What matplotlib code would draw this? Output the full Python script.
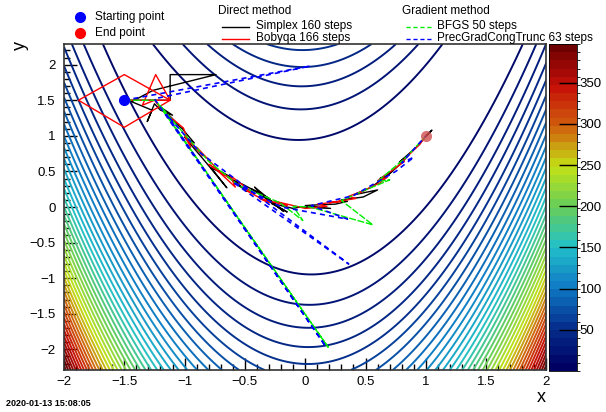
import matplotlib
matplotlib.use('Agg')
import matplotlib.pyplot as plt
import numpy as np
from matplotlib.colors import LinearSegmentedColormap, BoundaryNorm
from matplotlib.ticker import MultipleLocator
from matplotlib.lines import Line2D
import matplotlib.colorbar as mcolorbar

plt.rcParams['font.family'] = ['Liberation Sans', 'DejaVu Sans']

# surface: 10*(y - x^2)^2 + (1 - x)^2 on the drawn window
x_lim = (-2.0, 2.0)
y_lim = (-2.29, 2.29)
z_max = 397.0
n_levels = 40
cbar_ticks = [50, 100, 150, 200, 250, 300, 350]

start_pt = (-1.5, 1.5)
end_pt = (1.0, 1.0)

simplex_x = [-1.5, -1.12, -1.12, -0.74, -1.26, -1.44, -1.27, -1.31, -1.25, -1.2, -1.1, -1.18,
             -1.05, -1.12, -1.02, -0.92, -1.0, -0.82, -0.65, -0.78, -0.62, -0.7, -0.55, -0.48,
             -0.6, -0.52, -0.3, -0.45, -0.22, -0.42, -0.38, -0.18, -0.36, -0.3, -0.15, -0.28,
             -0.1, -0.04, 0.21, 0.0, 0.1, 0.25, 0.35, 0.3, 0.48, 0.6, 0.4, 0.55, 0.72, 0.62,
             0.68, 0.8, 0.85, 0.78, 0.92, 1.05, 1.0]
simplex_y = [1.5, 1.5, 1.86, 1.86, 1.64, 1.48, 1.36, 1.2, 1.45, 1.36, 1.29, 1.38,
             1.15, 1.24, 1.1, 0.9, 0.98, 0.62, 0.27, 0.55, 0.42, 0.5, 0.3, 0.22,
             0.38, 0.32, 0.12, 0.26, 0.0, 0.28, 0.2, -0.06, 0.18, 0.08, -0.07, 0.05,
             -0.02, 0.0, -0.02, 0.02, 0.03, 0.04, 0.08, 0.1, 0.14, 0.24, 0.17, 0.28, 0.5, 0.4,
             0.44, 0.62, 0.72, 0.63, 0.84, 1.08, 1.0]

bobyqa_x = [-1.5, -1.12, -1.5, -1.88, -1.5, -1.12, -1.24, -1.35, -1.25, -1.18, -1.01, -0.95,
            -1.0, -0.85, -0.9, -0.7, -0.8, -0.6, -0.72, -0.58, -0.62, -0.45, -0.5, -0.3,
            -0.38, -0.15, -0.25, 0.0, 0.18, 0.1, 0.3, 0.2, 0.42, 0.36, 0.5, 0.45, 0.62,
            0.68, 0.6, 0.75, 0.82, 0.78, 0.9, 0.95, 1.0]
bobyqa_y = [1.5, 1.5, 1.86, 1.5, 1.12, 1.5, 1.86, 1.43, 1.5, 1.35, 1.11, 0.84,
            1.0, 0.72, 0.84, 0.48, 0.6, 0.38, 0.5, 0.28, 0.44, 0.22, 0.24, 0.06,
            0.12, 0.02, 0.08, -0.02, 0.01, 0.04, 0.08, 0.06, 0.12, 0.15, 0.24, 0.2, 0.34,
            0.42, 0.37, 0.55, 0.64, 0.6, 0.8, 0.88, 1.0]

bfgs_x = [-1.5, -1.24, 0.19, -1.2, -1.0, -0.8, -0.55, -0.21, -0.02, -0.1, 0.04, 0.56,
          0.3, 0.5, 0.7, 0.6, 0.85, 1.0]
bfgs_y = [1.5, 1.5, -1.97, 1.42, 1.02, 0.64, 0.3, 0.06, -0.19, 0.01, 0.0, -0.25,
          0.09, 0.24, 0.38, 0.36, 0.72, 1.0]

pgct_x = [-1.5, 0.04, -1.25, 0.17, -1.15, -0.87, 0.36, -0.6, -0.2, 0.35, 0.05, 0.4,
          0.75, 0.9, 0.8, 1.0]
pgct_y = [1.5, 1.98, 1.52, -1.96, 1.3, 0.76, -0.8, 0.35, 0.0, -0.17, 0.02, 0.16,
          0.5, 0.7, 0.62, 1.0]

# ROOT kRainBow palette
pal_r = [0, 5, 15, 35, 102, 196, 208, 199, 110]
pal_g = [0, 48, 124, 192, 206, 226, 97, 16, 0]
pal_b = [99, 142, 198, 201, 90, 22, 13, 8, 2]
pal = LinearSegmentedColormap.from_list(
    'rainbow', [(r / 255, g / 255, b / 255) for r, g, b in zip(pal_r, pal_g, pal_b)])

W, H = 606, 412


def fx(px):
    return px / W


def fy(py):
    return 1 - py / H


fig = plt.figure(figsize=(W / 100, H / 100), dpi=100)
ax = fig.add_axes([fx(64), fy(370), fx(546.5) - fx(64), fy(44) - fy(370)])

gx = np.linspace(x_lim[0], x_lim[1], 500)
gy = np.linspace(y_lim[0], y_lim[1], 500)
X, Y = np.meshgrid(gx, gy)
Z = 10 * (Y - X ** 2) ** 2 + (1 - X) ** 2

bands = np.linspace(0, z_max, n_levels + 1)
norm = BoundaryNorm(bands, pal.N)
ax.contour(X, Y, Z, levels=bands[1:], cmap=pal, norm=norm, linewidths=1.4)

ax.plot(simplex_x, simplex_y, color='black', lw=1.0, zorder=5)
ax.plot(bobyqa_x, bobyqa_y, color='red', lw=1.0, zorder=5)
ax.plot(bfgs_x, bfgs_y, color='#00ee00', lw=1.0, ls=(0, (5, 1.2)), zorder=6)
ax.plot(pgct_x, pgct_y, color='blue', lw=1.2, ls=(0, (3, 2.5)), zorder=6)
ax.plot(*start_pt, 'o', color='blue', ms=7, zorder=7)
ax.plot(*end_pt, 'o', color='#d05050', alpha=0.8, ms=8, mec='none', zorder=7)

ax.set_xlim(*x_lim)
ax.set_ylim(*y_lim)
ax.xaxis.set_major_locator(MultipleLocator(0.5))
ax.xaxis.set_minor_locator(MultipleLocator(0.1))
ax.yaxis.set_major_locator(MultipleLocator(0.5))
ax.yaxis.set_minor_locator(MultipleLocator(0.1))
ax.xaxis.set_major_formatter(plt.FuncFormatter(lambda v, p: f'{v:g}'.replace('-', '\u2212')))
ax.yaxis.set_major_formatter(plt.FuncFormatter(lambda v, p: f'{v:g}'.replace('-', '\u2212')))
ax.tick_params(which='both', direction='in', top=False, right=False, labelsize=9.5, width=1.0)
ax.tick_params(which='major', length=9)
ax.tick_params(which='minor', length=4.5)
ax.tick_params(axis='y', pad=6)
ax.tick_params(axis='x', pad=4)
for s in ax.spines.values():
    s.set_linewidth(1.2)
    s.set_color('#333333')

# colour scale
cax = fig.add_axes([fx(549), fy(371), fx(577) - fx(549), fy(44) - fy(371)])
cb = mcolorbar.ColorbarBase(cax, cmap=pal, norm=norm, boundaries=bands, ticks=cbar_ticks)
cb.outline.set_linewidth(0.6)
cax.tick_params(direction='in', length=13, width=1.0, labelsize=9.5, pad=2)

# legend block
fig.add_artist(Line2D([fx(80)], [fy(17)], marker='o', color='blue', ms=7))
fig.text(fx(95), fy(17), 'Starting point', fontsize=8.5, va='center')
fig.add_artist(Line2D([fx(80)], [fy(33)], marker='o', color='red', ms=7))
fig.text(fx(95), fy(33), 'End point', fontsize=8.5, va='center')

fig.text(fx(218), fy(11), 'Direct method', fontsize=8.5, va='center')
fig.add_artist(Line2D([fx(222), fx(249)], [fy(27), fy(27)], color='black', lw=1.0))
fig.text(fx(256), fy(26), 'Simplex 160 steps', fontsize=8.5, va='center')
fig.add_artist(Line2D([fx(222), fx(249)], [fy(39), fy(39)], color='red', lw=1.0))
fig.text(fx(256), fy(38), 'Bobyqa 166 steps', fontsize=8.5, va='center')

fig.text(fx(402), fy(11), 'Gradient method', fontsize=8.5, va='center')
fig.add_artist(Line2D([fx(406), fx(433)], [fy(27), fy(27)], color='#00ee00', lw=1.0, ls=(0, (3, 2))))
fig.text(fx(437), fy(26), 'BFGS 50 steps', fontsize=8.5, va='center')
fig.add_artist(Line2D([fx(406), fx(433)], [fy(39), fy(39)], color='blue', lw=1.0, ls=(0, (3, 2))))
fig.text(fx(437), fy(38), 'PrecGradCongTrunc 63 steps', fontsize=8.5, va='center')

fig.text(fx(541), fy(398), 'x', fontsize=13, ha='center', va='center')
fig.text(fx(20), fy(46), 'y', fontsize=13, rotation=90, ha='center', va='center')
fig.text(fx(6), fy(404), '2020-01-13 15:08:05', fontsize=6.5, fontweight='bold', va='center')

fig.savefig('out.png', dpi=100)
